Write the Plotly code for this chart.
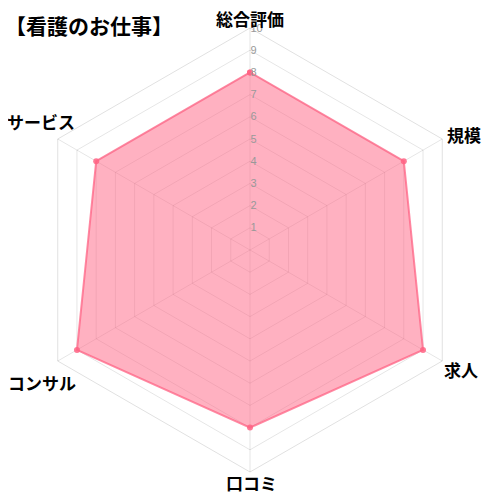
import math
import plotly.graph_objects as go

# Chart data
categories = ["総合評価", "規模", "求人", "口コミ", "コンサル", "サービス"]
scores = [8, 8, 9, 8, 9, 8]
radial_ticks = [1, 2, 3, 4, 5, 6, 7, 8, 9, 10]
title_text = "【看護のお仕事】"

jp_font = "Noto Sans CJK JP"
W = H = 500
# polar area in figure pixels (page is drawn with an 8px body margin)
cx, cy, R = 242, 242, 222

# label offsets (px) from each outer corner, chart.js-like placement
label_shift = [(0, 10), (22, 5), (19, -9), (1, -10), (-16, -21), (-17, 18)]

fig = go.Figure()
fig.add_trace(go.Scatterpolar(
    r=scores + scores[:1],
    theta=categories + categories[:1],
    mode="lines+markers",
    fill="toself",
    fillcolor="rgba(255, 99, 132, 0.5)",
    line=dict(color="rgba(255, 99, 132, 0.75)", width=2),
    marker=dict(color="rgba(255, 99, 132, 0.85)", size=6),
    hoverinfo="skip",
    showlegend=False
))

# category labels placed around the outer corners
for i, (name, (dx, dy)) in enumerate(zip(categories, label_shift)):
    ang = math.radians(i * 360 / len(categories))
    px = cx + R * math.sin(ang)
    py = cy - R * math.cos(ang)
    fig.add_annotation(
        x=px / W, y=1 - py / H, xref="paper", yref="paper",
        text=name, showarrow=False,
        xanchor="center", yanchor="middle",
        xshift=dx, yshift=dy,
        font=dict(family=jp_font, size=17, color="black", weight="bold")
    )

fig.add_annotation(
    x=0, y=1 - 17 / H, xref="paper", yref="paper",
    text=title_text, showarrow=False,
    xanchor="left", yanchor="middle", xshift=-5,
    font=dict(family=jp_font, size=21, color="black", weight="bold")
)

fig.update_layout(
    width=W,
    height=H,
    autosize=False,
    margin=dict(l=0, r=0, t=0, b=0),
    paper_bgcolor="white",
    plot_bgcolor="white",
    polar=dict(
        bgcolor="white",
        gridshape="linear",
        domain=dict(x=[(cx - R) / W, (cx + R) / W],
                    y=[1 - (cy + R) / H, 1 - (cy - R) / H]),
        radialaxis=dict(
            range=[0, 10],
            tickvals=radial_ticks,
            angle=90,
            tickangle=90,
            showline=False,
            ticks="",
            gridcolor="rgba(0,0,0,0.1)",
            tickfont=dict(family="Liberation Sans", size=11, color="#999999")
        ),
        angularaxis=dict(
            direction="clockwise",
            rotation=90,
            showticklabels=False,
            gridcolor="rgba(0,0,0,0.1)",
            linecolor="rgba(0,0,0,0.12)",
            ticks=""
        )
    )
)

fig.write_html("out.html")
